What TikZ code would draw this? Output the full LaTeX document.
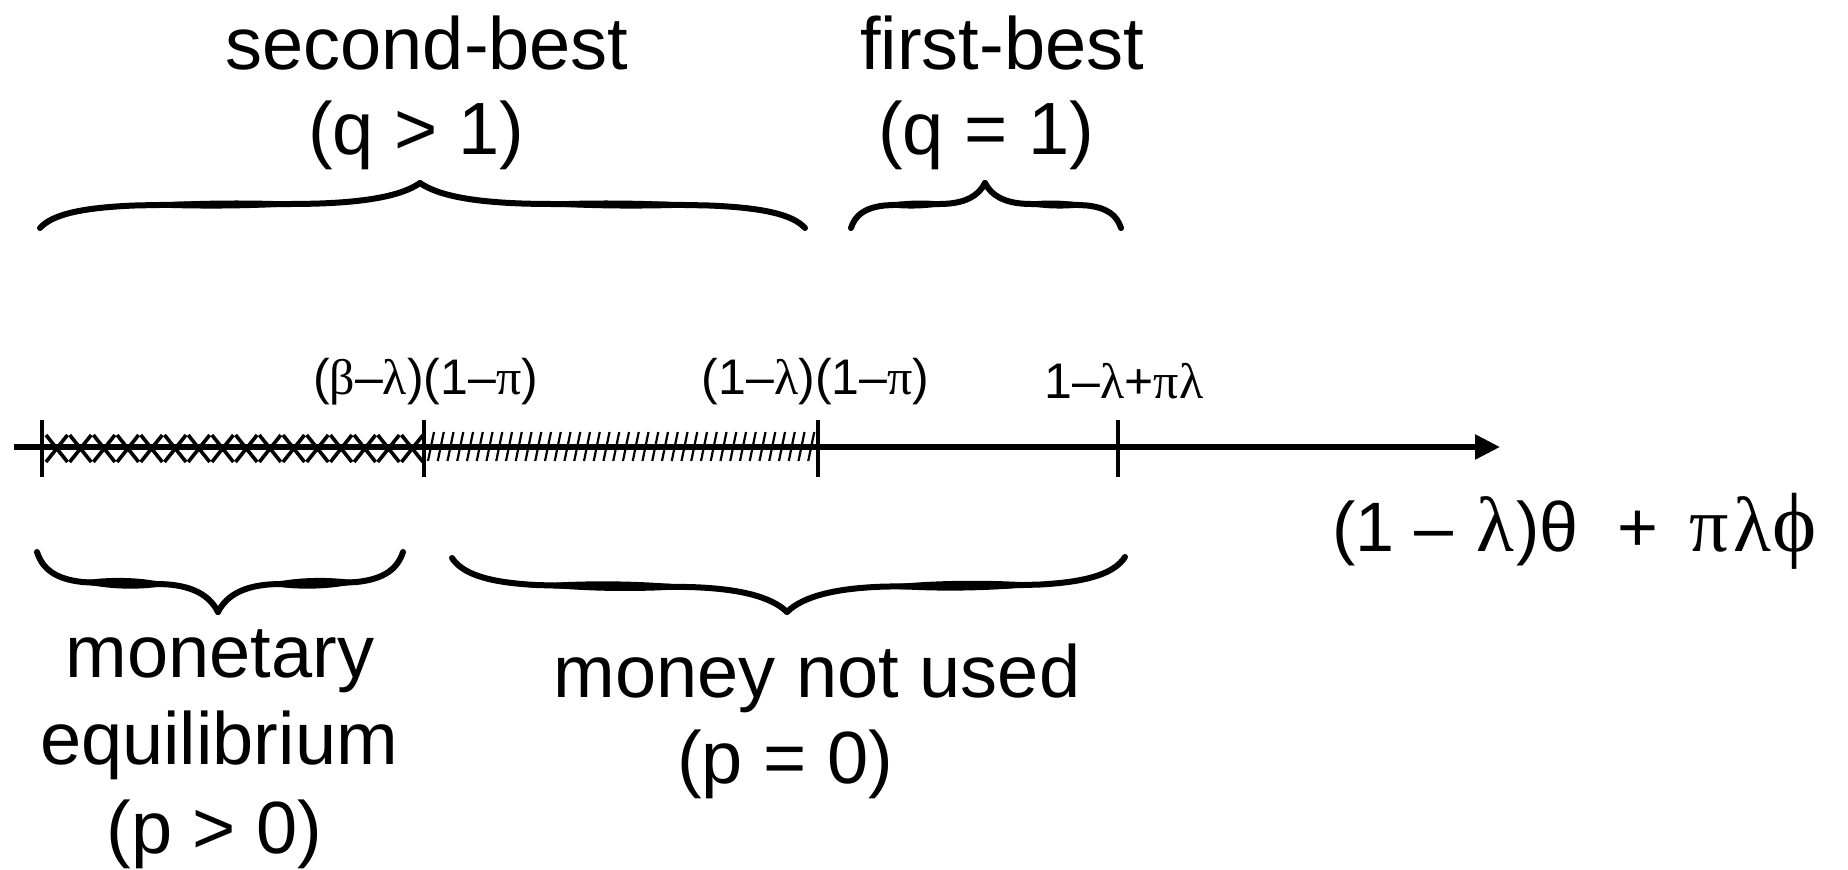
\documentclass[tikz,border=0pt]{standalone}
\usepackage{fontspec}
\setmainfont{Liberation Sans}
\newfontfamily\gk{Liberation Serif}
\usetikzlibrary{arrows.meta}
\newcommand\grk[1]{{\gk #1}}
\newcommand\grkb[1]{{\gk\fontsize{39}{42}\selectfont #1}}
% half brace: #1 end point, #2 xscale, #3 yscale
\newcommand\hbrace[3]{%
  \begin{scope}[shift={#1},xscale=#2,yscale=#3]
    \draw[bracestroke] (0,0) .. controls (0.03,0.28) and (0.1,0.45) .. (0.25,0.5)
      .. controls (0.45,0.54) and (0.6,0.52) .. (0.72,0.54)
      .. controls (0.85,0.57) and (0.95,0.7) .. (1,1);
    \fill (0.22,0.495) .. controls (0.38,0.64) and (0.6,0.64) .. (0.74,0.545)
      .. controls (0.6,0.41) and (0.38,0.4) .. (0.22,0.495) -- cycle;
  \end{scope}}
\begin{document}
\begin{tikzpicture}[x=0.5pt,y=-0.5pt,
  axisline/.style={line width=2.8pt},
  tickmark/.style={line width=2.4pt},
  hatchx/.style={line width=1.8pt},
  hatchs/.style={line width=1.1pt},
  bracestroke/.style={line width=3pt,line cap=round,line join=round},
  bigtext/.style={font=\fontsize{37}{44}\selectfont,inner sep=0pt},
  axtext/.style={font=\fontsize{35}{42}\selectfont,inner sep=0pt},
  smalltext/.style={font=\fontsize{25}{30}\selectfont,inner sep=0pt}]
\useasboundingbox (0,0) rectangle (1848,870);
\fill[white] (0,0) rectangle (1848,870);

% axis
\coordinate (A0) at (14,447);
\coordinate (A1) at (1500,447);
\draw[axisline,-{Triangle[length=12.5pt,width=12pt]}] (A0) -- (A1);

% ticks
\foreach \x in {42,424,818,1118} {\draw[tickmark] (\x,420) -- (\x,477);}

% cross hatch
\foreach \i in {0,...,15} {
  \draw[hatchx] (46+\i*23.7,435) -- ++(21.5,27) (46+\i*23.7,462) -- ++(21.5,-27);
}
% slash hatch
\foreach \i in {0,...,39} {
  \draw[hatchs] (428+\i*9.75,461) -- ++(6,-29);
}

% labels on axis
\node[smalltext] (l1) at (425.5,382) {(\grk{β}–\grk{λ})(1–\grk{π})};
\node[smalltext] (l2) at (815.5,382) {(1–\grk{λ})(1–\grk{π})};
\node[smalltext] (l3) at (1124,381) {1–\grk{λ}+\grk{πλ}};
\node[axtext,anchor=base west] (ax) at (1332,552)
  {(1 – \hspace{2pt}\grkb{λ}\hspace{1pt})θ\ \ + \hspace{6pt}\grkb{π\hspace{2pt}λ\hspace{1pt}\fontsize{42}{44}\selectfont ϕ}};

% top braces
\hbrace{(40,228)}{380}{-45}
\hbrace{(805,228)}{-385}{-45}
\hbrace{(851,228)}{134}{-45}
\hbrace{(1121,228)}{-136}{-45}
% bottom braces
\hbrace{(37,552)}{181}{60}
\hbrace{(403,552)}{-185}{60}
\hbrace{(452,558)}{335}{54}
\hbrace{(1125,557)}{-338}{55}

% texts
\node[bigtext] (sb) at (427,43) {second-best};
\node[bigtext] (q1) at (416,135) {(q > 1)};
\node[bigtext] (fb) at (1002,43) {first-best};
\node[bigtext] (q2) at (986,135) {(q = 1)};
\node[bigtext] (mon) at (220,661) {monetary};
\node[bigtext] (eq) at (219,745) {equilibrium};
\node[bigtext] (p1) at (214.5,834) {(p > 0)};
\node[bigtext] (mnu) at (817,678) {money not used};
\node[bigtext] (p2) at (785,764) {(p = 0)};
\end{tikzpicture}
\end{document}
